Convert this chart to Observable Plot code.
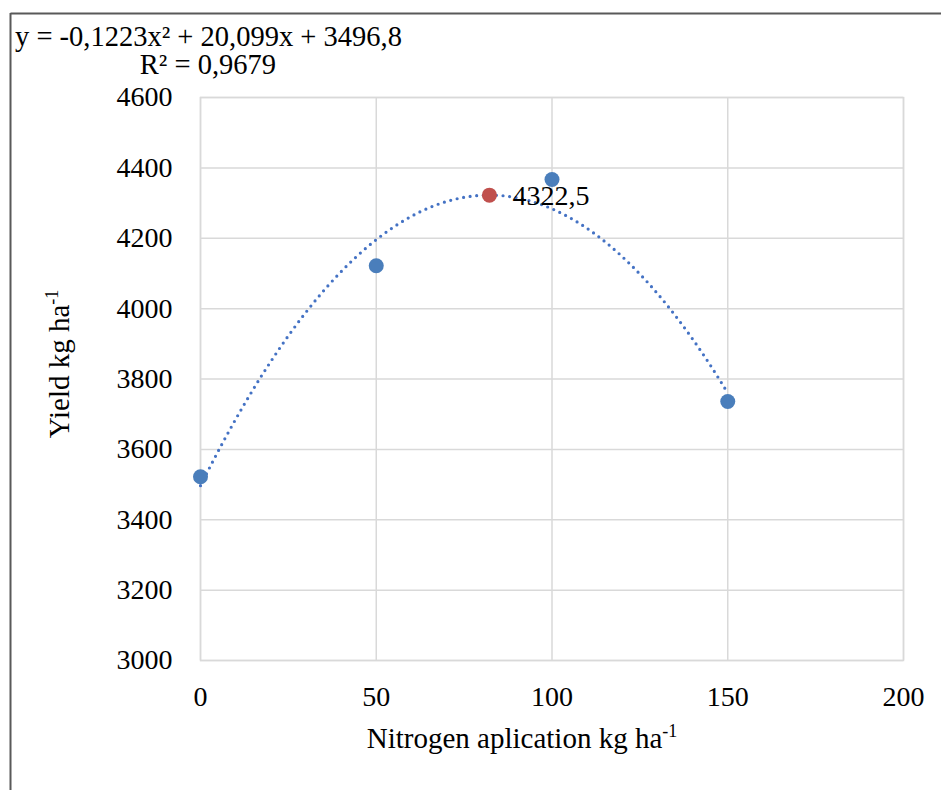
<!DOCTYPE html>
<html>
<head>
<meta charset="utf-8">
<script src="https://cdn.jsdelivr.net/npm/d3@7"></script>
<script src="https://cdn.jsdelivr.net/npm/@observablehq/plot@0.6"></script>
<style>
  html, body { margin: 0; padding: 0; background: #fff; }
  svg { display: block; }
</style>
</head>
<body>
<div id="chart"></div>
<script>
// Observed data
const nitrogen = [0, 50, 100, 150];
const yields = [3522, 4122, 4367, 3736];
// Optimum point (labelled)
const optimumX = [82.2];
const optimumY = [4322.5];
const optimumLabel = ["4322,5"];
// Trend equation coefficients shown in chart: y = a x² + b x + c
const trendCoefs = [-0.1223, 20.099, 3496.8];
const trendRange = [0, 150];
// Ticks
const xTicks = [0, 50, 100, 150, 200];
const yTicks = [3000, 3200, 3400, 3600, 3800, 4000, 4200, 4400, 4600];
const equationText = ["y = -0,1223x² + 20,099x + 3496,8", "R² = 0,9679"];

const points = nitrogen.map((x, i) => ({x, y: yields[i]}));
const optimum = optimumX.map((x, i) => ({x, y: optimumY[i], label: optimumLabel[i]}));
const trend = d3.range(trendRange[0], trendRange[1] + 0.5, 1).map(x => ({
  x, y: trendCoefs[0] * x * x + trendCoefs[1] * x + trendCoefs[2]
}));

const FONT = "'Liberation Serif', 'Times New Roman', serif";
const FS = 28;
const W = 941, H = 790;

const chart = Plot.plot({
  width: W,
  height: H,
  marginLeft: 200,
  marginRight: 38,
  marginTop: 97,
  marginBottom: 130,
  style: {fontFamily: FONT, fontSize: FS + "px", color: "#000", background: "#fff"},
  x: {domain: [0, 200], ticks: xTicks, label: null},
  y: {domain: [3000, 4600], ticks: yTicks, label: null},
  marks: [
    Plot.gridX(xTicks, {stroke: "#d9d9d9", strokeOpacity: 1, strokeWidth: 1.5}),
    Plot.gridY(yTicks, {stroke: "#d9d9d9", strokeOpacity: 1, strokeWidth: 1.5}),
    Plot.frame({stroke: "#d9d9d9", strokeWidth: 1.5}),
    Plot.axisX(xTicks, {tickSize: 0, tickPadding: 26, fontSize: FS, fill: "#000",
      fontFamily: FONT, tickFormat: d => String(d)}),
    Plot.axisY(yTicks, {tickSize: 0, tickPadding: 28, fontSize: FS, fill: "#000",
      fontFamily: FONT, tickFormat: d => String(d)}),
    Plot.line(trend, {x: "x", y: "y", stroke: "#4472c4", strokeWidth: 3.2,
      strokeDasharray: "0,6.6", strokeLinecap: "round", curve: "linear"}),
    Plot.dot(points, {x: "x", y: "y", r: 7.5, fill: "#4a7ebb", stroke: "none"}),
    Plot.dot(optimum, {x: "x", y: "y", r: 7.5, fill: "#c0504d", stroke: "none"}),
    Plot.text(optimum, {x: "x", y: "y", text: "label", dx: 23, dy: 1, textAnchor: "start",
      fontSize: FS, fill: "#000", fontFamily: FONT})
  ]
});

const svg = d3.select(chart);
// outer border (top and left visible)
svg.append("line").attr("x1", 10.5).attr("y1", 13.5).attr("x2", 941).attr("y2", 13.5)
  .attr("stroke", "#595959").attr("stroke-width", 2);
svg.append("line").attr("x1", 10.5).attr("y1", 13).attr("x2", 10.5).attr("y2", 790)
  .attr("stroke", "#595959").attr("stroke-width", 2);

const addText = (fs = FS) => svg.append("text").attr("font-family", FONT)
  .attr("fill", "#000").style("font-size", fs + "px");

// equation
addText(28.5).attr("x", 15).attr("y", 46).attr("text-anchor", "start").text(equationText[0]);
addText(28.5).attr("x", 208).attr("y", 74).attr("text-anchor", "middle").text(equationText[1]);

// x axis title
const xt = addText(29).attr("x", 522).attr("y", 748).attr("text-anchor", "middle");
xt.append("tspan").text("Nitrogen aplication kg ha");
xt.append("tspan").style("font-size", "18px").attr("dy", -11).text("-1");

// y axis title
const yt = addText(29).attr("transform", "translate(69,364) rotate(-90)").attr("text-anchor", "middle");
yt.append("tspan").text("Yield kg ha");
yt.append("tspan").style("font-size", "18px").attr("dy", -11).text("-1");

document.getElementById("chart").appendChild(chart);
</script>
</body>
</html>
